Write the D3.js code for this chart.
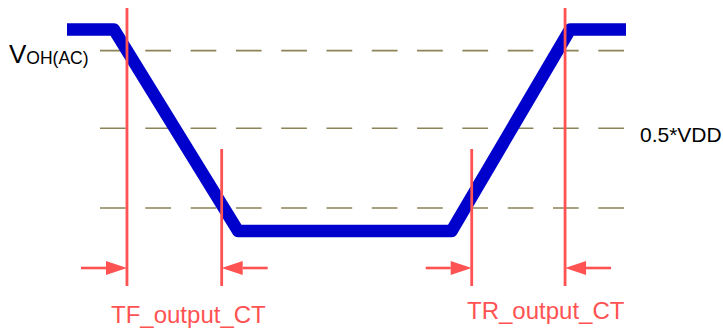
<!DOCTYPE html>
<html>
<head>
<meta charset="utf-8">
<script src="https://cdn.jsdelivr.net/npm/d3@7"></script>
<style>
    body { margin: 0; background: #fff; }
    svg { display: block; }
    text { font-family: Arial, "Liberation Sans", sans-serif; }
</style>
</head>
<body>
<div id="chart"></div>
<script>
// waveform (time in arbitrary units, voltage as fraction of VDD)
var waveTime = [0, 8.4, 30.6, 68.8, 90, 100];
var waveLevel = [1, 1, 0, 0, 1, 1];

// reference levels (dashed)
var refLevels = [0.895, 0.51, 0.114];

// timing markers where the edge crosses the levels
var markerTime = [10.73, 27.67, 72.4, 89.1];
var markerTall = [true, false, false, true];
var markerPoint = ["right", "left", "right", "left"];

var measureNames = ["TF_output_CT", "TR_output_CT"];

var width = 723, height = 329;

var svg = d3.select("#chart").append("svg")
    .attr("width", width)
    .attr("height", height);

var x = d3.scaleLinear().domain([0, 100]).range([67, 626]);
var y = d3.scaleLinear().domain([0, 1]).range([231, 29.5]);

var red = "#ff5252";

// dashed reference lines
svg.selectAll("line.ref")
    .data(refLevels)
    .enter().append("line")
    .attr("class", "ref")
    .attr("x1", 100)
    .attr("x2", 626)
    .attr("y1", function (d) { return y(d); })
    .attr("y2", function (d) { return y(d); })
    .style("stroke", "#8c8356")
    .style("stroke-width", 1.6)
    .style("stroke-dasharray", "25.7,19.6");

// waveform
var line = d3.line()
    .x(function (d) { return x(d[0]); })
    .y(function (d) { return y(d[1]); });

svg.append("path")
    .datum(d3.zip(waveTime, waveLevel))
    .attr("d", line)
    .style("fill", "none")
    .style("stroke", "#0000cc")
    .style("stroke-width", 12.4)
    .style("stroke-linejoin", "round")
    .style("stroke-linecap", "butt");

// marker lines
var markers = markerTime.map(function (t, i) {
    return {t: t, tall: markerTall[i], dir: markerPoint[i]};
});

svg.selectAll("line.marker")
    .data(markers)
    .enter().append("line")
    .attr("class", "marker")
    .attr("x1", function (d) { return x(d.t); })
    .attr("x2", function (d) { return x(d.t); })
    .attr("y1", function (d) { return d.tall ? 8 : 149; })
    .attr("y2", 286)
    .style("stroke", red)
    .style("stroke-width", 2.8);

// arrows
var arrowY = 268, shaft = 46, headLen = 21, headHalf = 7;

var arrows = svg.selectAll("g.arrow")
    .data(markers)
    .enter().append("g")
    .attr("class", "arrow")
    .attr("transform", function (d) {
        return "translate(" + x(d.t) + "," + arrowY + ")" + (d.dir === "left" ? " scale(-1,1)" : "");
    });

arrows.append("line")
    .attr("x1", -shaft)
    .attr("x2", -headLen)
    .attr("y1", 0)
    .attr("y2", 0)
    .style("stroke", red)
    .style("stroke-width", 2.6);

arrows.append("path")
    .attr("d", "M0,0L" + (-headLen) + "," + (-headHalf) + "L" + (-headLen) + "," + headHalf + "Z")
    .style("fill", red);

// labels
var vlabel = svg.append("text")
    .attr("x", 9)
    .attr("y", 63.3)
    .style("font-size", "26px")
    .style("fill", "#000");
vlabel.append("tspan").text("V");
vlabel.append("tspan")
    .attr("dy", 1)
    .style("font-size", "17.5px")
    .text("OH(AC)");

svg.append("text")
    .attr("x", 640)
    .attr("y", 141.6)
    .style("font-size", "21px")
    .style("fill", "#000")
    .text("0.5*VDD");

var labelPos = [[111, 323], [467, 319]];

svg.selectAll("text.measure")
    .data(measureNames)
    .enter().append("text")
    .attr("class", "measure")
    .attr("x", function (d, i) { return labelPos[i][0]; })
    .attr("y", function (d, i) { return labelPos[i][1]; })
    .style("font-size", "24px")
    .style("fill", red)
    .text(function (d) { return d; });
</script>
</body>
</html>
